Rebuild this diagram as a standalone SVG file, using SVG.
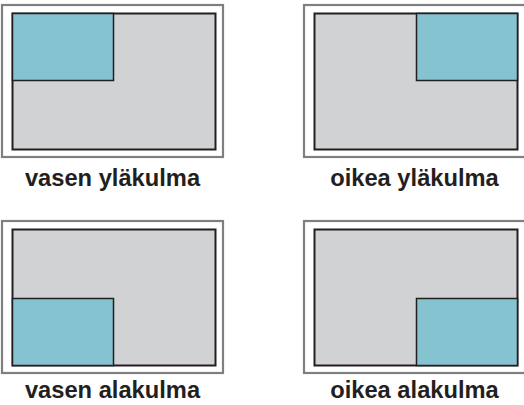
<svg xmlns="http://www.w3.org/2000/svg" width="524" height="405" viewBox="0 0 524 405">
<style>
.frame{fill:#fff;stroke:#7f7f81;stroke-width:2.2}
.screen{fill:#d1d2d4;stroke:#231f20;stroke-width:2}
.win{fill:#86c3d1;stroke:#231f20;stroke-width:1.5}
.lbl{font-family:"Liberation Sans",Arial,sans-serif;font-weight:bold;font-size:23.7px;fill:#231f20;text-anchor:middle}
</style>
<rect width="524" height="405" fill="#fff"/>
<g id="vasen-ylakulma">
<rect class="frame" x="2" y="5" width="221" height="152"/>
<rect class="screen" x="12.5" y="13.5" width="203" height="136"/>
<rect class="win" x="12.5" y="13.5" width="101" height="67"/>
<text class="lbl" x="112.5" y="186">vasen yläkulma</text>
</g>
<g id="oikea-ylakulma">
<rect class="frame" x="304" y="5" width="224" height="152"/>
<rect class="screen" x="314.5" y="13.5" width="203" height="136"/>
<rect class="win" x="416.5" y="13.5" width="101" height="67"/>
<text class="lbl" x="414.5" y="186">oikea yläkulma</text>
</g>
<g id="vasen-alakulma">
<rect class="frame" x="2" y="221" width="221" height="152"/>
<rect class="screen" x="12.5" y="229.5" width="203" height="136"/>
<rect class="win" x="12.5" y="298.5" width="101" height="67"/>
<text class="lbl" x="112.5" y="398">vasen alakulma</text>
</g>
<g id="oikea-alakulma">
<rect class="frame" x="304" y="221" width="224" height="152"/>
<rect class="screen" x="314.5" y="229.5" width="203" height="136"/>
<rect class="win" x="416.5" y="298.5" width="101" height="67"/>
<text class="lbl" x="414.5" y="398">oikea alakulma</text>
</g>
<g id="connectors"></g>
</svg>
